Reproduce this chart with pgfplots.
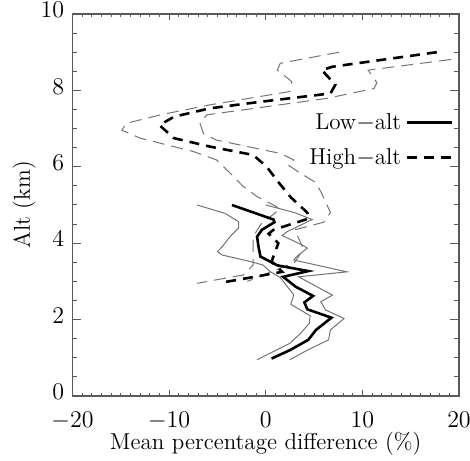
\documentclass[border=0pt]{standalone}
\usepackage{pgfplots}
\pgfplotsset{compat=1.18}
\definecolor{bnd}{gray}{0.45}
\begin{document}
\begin{tikzpicture}[font=\fontsize{11.5}{14}\selectfont]
\begin{axis}[
  scale only axis,
  width=193.25pt, height=191pt,
  xmin=-20, xmax=20, ymin=0, ymax=10,
  xtick={-20,-10,0,10,20},
  ytick={0,2,4,6,8,10},
  minor x tick num=9,
  minor y tick num=3,
  tick align=inside,
  axis line style={draw=black!65, line width=0.6pt},
  every tick/.style={draw=black!65, line width=0.5pt},
  xtick style={/pgfplots/major tick length=3pt,/pgfplots/minor tick length=1.5pt},
  ytick style={/pgfplots/major tick length=4.5pt,/pgfplots/minor tick length=2.5pt},
  every tick label/.append style={inner sep=1pt},
  xticklabel style={yshift=-7pt},
  yticklabel style={yshift=2pt, xshift=-3pt},
  xlabel={Mean percentage difference (\%)},
  ylabel={Alt (km)},
  every axis x label/.style={at={(axis description cs:0.5,-0.125)}, anchor=center},
  every axis y label/.style={at={(axis description cs:-0.125,0.5)}, rotate=90, anchor=center},
  legend style={draw=none, fill=none, at={(rel axis cs:0.985,0.752)}, anchor=north east, row sep=4pt, inner sep=0pt},
  legend plot pos=right,
  legend cell align=right,
  legend image code/.code={\draw[#1] (0pt,0pt) -- (22.5pt,0pt);},
]
% low-alt bounds
\addplot[forget plot, bnd, line width=0.5pt] coordinates {
(-7.1,5.0) (-4.2,4.78) (-2.8,4.56) (-2.8,4.4) (-3.7,4.17) (-4.5,3.91) (-5.0,3.78) (-4.5,3.69) (-1.6,3.52) (-0.3,3.43) (0.5,3.25) (1.5,3.1) (2.9,2.65) (2.6,2.4) (4.6,2.1) (4.5,1.9) (3.6,1.64) (2.5,1.38) (-0.9,0.95)};
\addplot[forget plot, bnd, line width=0.5pt] coordinates {
(0.0,5.0) (3.0,4.8) (4.8,4.62) (2.2,4.3) (1.7,4.2) (3.8,3.95) (4.3,3.87) (3.2,3.65) (2.9,3.56) (8.4,3.25) (3.4,3.12) (5.3,2.86) (6.9,2.64) (5.7,2.47) (6.2,2.25) (8.1,2.03) (6.7,1.73) (6.5,1.47) (4.3,1.2) (2.5,0.95)};
% high-alt bounds
\addplot[forget plot, bnd, line width=0.5pt, dash pattern=on 6pt off 3.5pt] coordinates {
(7.6,9.0) (1.5,8.71) (1.2,8.53) (2.7,8.23) (2.5,7.97) (-5.8,7.62) (-10.9,7.36) (-14.4,7.14) (-14.9,6.96) (-13.0,6.75) (-7.5,6.4) (-5.1,6.18) (-3.3,5.74) (-2.4,5.5) (-0.9,5.22) (0.8,5.0) (1.5,4.9) (-0.5,4.5) (-1.3,4.17) (-1.3,3.78) (-1.3,3.43) (-2.3,3.17) (-7.1,2.95)};
\addplot[forget plot, bnd, line width=0.5pt, dash pattern=on 6pt off 3.5pt] coordinates {
(25,9.0) (10.6,8.53) (11.5,8.2) (11.2,8.05) (6.3,7.79) (-6.1,7.36) (-6.8,7.14) (-6.45,6.87) (-5.1,6.7) (1.5,6.35) (2.9,6.18) (2.3,6.05) (3.6,5.83) (5.1,5.6) (5.7,5.35) (6.7,4.8) (6.0,4.55) (3.0,4.35) (3.9,3.85) (3.0,3.5) (-1.9,3.0)};
% means
\addplot[black, line width=1.3pt] coordinates {
(-3.5,5.0) (0.8,4.62) (0.9,4.55) (-0.4,4.35) (-0.9,4.17) (-0.75,3.91) (-0.55,3.65) (1.2,3.42) (4.4,3.27) (1.8,3.12) (3.1,2.86) (4.9,2.62) (4.0,2.45) (4.3,2.27) (6.8,2.05) (5.2,1.73) (4.4,1.47) (2.5,1.2) (0.6,0.98)};
\addlegendentry{Low$-$alt}
\addplot[black, line width=1.3pt, dash pattern=on 5pt off 3.5pt] coordinates {
(17.7,9.0) (6.9,8.62) (5.8,8.53) (7.2,8.15) (6.7,7.92) (-0.6,7.7) (-5.8,7.53) (-9.5,7.31) (-11.0,7.09) (-9.5,6.75) (-5.8,6.53) (-1.3,6.31) (0.1,6.0) (1.3,5.6) (2.6,5.2) (4.3,4.8) (4.5,4.65) (0.8,4.35) (0.3,4.25) (1.3,4.0) (0.6,3.52) (1.7,3.25) (-1.6,3.1) (-4.3,2.98)};
\addlegendentry{High$-$alt}
\coordinate (SW) at (rel axis cs:0,0);
\coordinate (NE) at (rel axis cs:1,1);
\end{axis}
\pgfresetboundingbox
\path ([xshift=-36.25pt,yshift=-32pt]SW) rectangle ([xshift=5.5pt,yshift=7pt]NE);
\end{tikzpicture}
\end{document}
